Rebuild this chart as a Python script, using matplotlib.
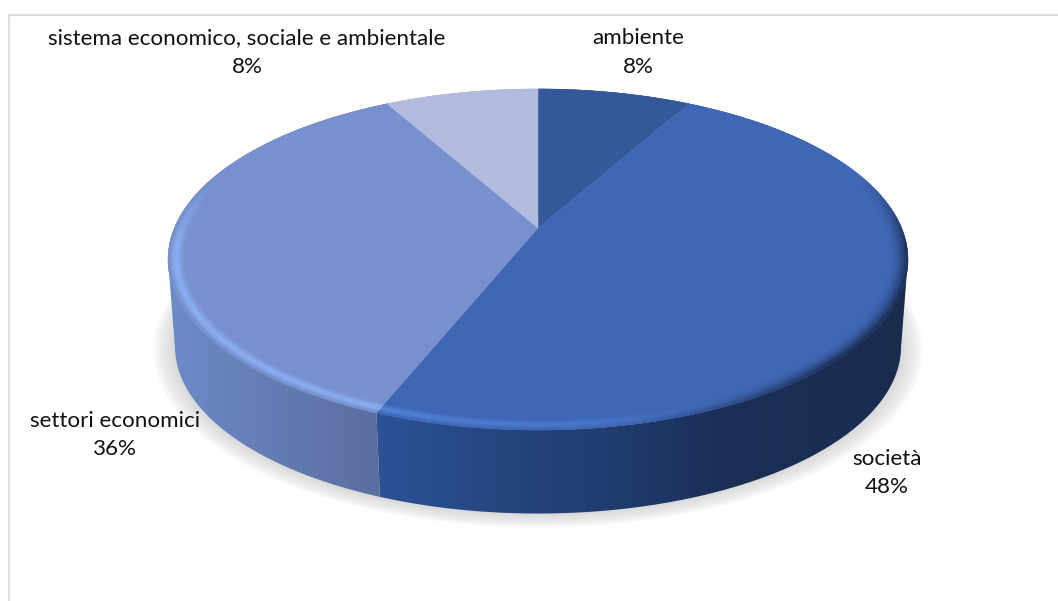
import numpy as np
import matplotlib
matplotlib.use("Agg")
import matplotlib.pyplot as plt
from matplotlib.collections import PolyCollection
from matplotlib.colors import to_rgb
from matplotlib.patches import Polygon

# clockwise from 12 o'clock
labels = ["ambiente", "società", "settori economici", "sistema economico, sociale e ambientale"]
shares = [8, 48, 36, 8]
top_colors = ["#34589a", "#4067b5", "#7890cd", "#b2bbde"]

# side wall gradient, (pixel x, colour)
side_stops = {
    0: [(538, "#2c4f90"), (700, "#2c4f90")],
    1: [(383, "#2c5296"), (500, "#24467f"), (620, "#1f3c6d"), (720, "#1b2f57"), (905, "#1a2b4e")],
    2: [(170, "#6d8ac8"), (260, "#657eb6"), (382, "#5a6d9e")],
    3: [(300, "#8a93b0"), (500, "#8a93b0")],
}

label_pos = [(638, 38, 67), (887, 459, 487), (115, 421, 449), (247, 38, 67)]

W, H = 1058, 601
CX, CY = 538, 228
A, B, K = 363.6, 164.7, 0.1846
DEPTH = 88


def project(theta, r=1.0):
    u = r * np.sin(theta)
    v = r * np.cos(theta)
    d = 1 + K * v
    return CX + A * u / d, CY - B * v / d


fig = plt.figure(figsize=(W / 100, H / 100), dpi=100)
ax = fig.add_axes([0, 0, 1, 1])
ax.set_xlim(0, W)
ax.set_ylim(H, 0)
ax.axis("off")

# chart frame, only top and left are inside the crop
ax.plot([W + 5, 9, 9], [15, 15, H + 5], color="#dedede", lw=1.6)

fractions = np.cumsum([0] + shares) / sum(shares)
angles = fractions * 2 * np.pi

# soft shadow under the disc
t = np.linspace(0, 2 * np.pi, 400)
for s in np.linspace(1.04, 0.985, 16):
    x, y = project(t, s)
    ax.fill(x, y + DEPTH, color="#999999", alpha=0.022, lw=0)

# the wall only shows between the two silhouette angles
sil_a = np.arccos(-K)
sil_b = 2 * np.pi - sil_a

# side wall, a horizontal gradient clipped to each slice
for i in range(len(shares)):
    start = max(angles[i], sil_a)
    end = min(angles[i + 1], sil_b)
    if end <= start:
        continue
    th = np.linspace(start, end, 200)
    x1, y1 = project(th)
    x2, y2 = project(th, 0.982)
    y2 = y2 + DEPTH
    outline = np.c_[np.r_[x1, x2[::-1]], np.r_[y1, y2[::-1]]]
    xs = [p[0] for p in side_stops[i]]
    cols = np.array([to_rgb(p[1]) for p in side_stops[i]])
    grid = np.arange(150, 925)
    grad = np.stack([np.interp(grid, xs, cols[:, c]) for c in range(3)], axis=-1)[None, :, :]
    im = ax.imshow(grad, extent=(150, 925, H, 0), aspect="auto", interpolation="bilinear", zorder=2)
    clip = Polygon(outline, transform=ax.transData, fc="none", ec="none")
    ax.add_patch(clip)
    im.set_clip_path(clip)
ax.set_xlim(0, W)
ax.set_ylim(H, 0)

# top face
for i in range(len(shares)):
    th = np.linspace(angles[i], angles[i + 1], 120)
    x, y = project(th)
    ax.fill(np.r_[CX, x], np.r_[CY, y], color=top_colors[i], lw=0.3, zorder=3)

# bevel on the rim
radii = np.linspace(0.95, 1.0, 14)
for i in range(len(shares)):
    th = np.linspace(angles[i], angles[i + 1], int(shares[i] * 6) + 2)
    base = np.array(to_rgb(top_colors[i]))
    polys = []
    cols = []
    for k in range(len(radii) - 1):
        mid = (radii[k] + radii[k + 1]) / 2
        f = (mid - radii[0]) / (1 - radii[0])
        x1, y1 = project(th, radii[k])
        x2, y2 = project(th, radii[k + 1])
        for j in range(len(th) - 1):
            m = (th[j] + th[j + 1]) / 2
            u, v = np.sin(m), np.cos(m)
            front = np.clip((0.3 - v) / 0.4, 0, 1)
            lit = np.clip(0.6 - u, 0, 1) * front
            dark = np.clip((u - 0.2) / 0.5, 0, 1) * front
            c = base + np.array([0.07, 0.12, 0.15]) * np.sin(np.pi * f ** 1.3) ** 2 * lit
            c = c + (np.array([0.10, 0.17, 0.31]) - c) * f ** 2 * dark
            c = np.clip(c, 0, 1)
            polys.append([(x1[j], y1[j]), (x1[j + 1], y1[j + 1]), (x2[j + 1], y2[j + 1]), (x2[j], y2[j])])
            cols.append(c)
    ax.add_collection(PolyCollection(polys, facecolors=cols, edgecolors=cols, linewidths=0.3, zorder=4))

for name, share, (lx, ly1, ly2) in zip(labels, shares, label_pos):
    ax.text(lx, ly1, name, ha="center", va="center", fontsize=16.1, family="Lato", color="#111111", zorder=5)
    ax.text(lx, ly2, f"{share}%", ha="center", va="center", fontsize=16.1, family="Lato", color="#111111", zorder=5)

fig.savefig("out.png", dpi=100)
